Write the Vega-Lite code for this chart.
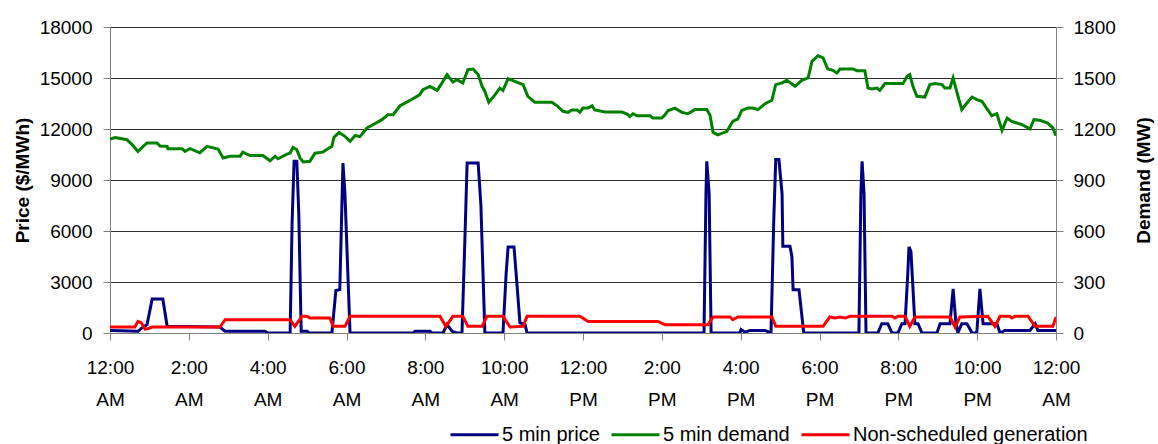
{
  "$schema": "https://vega.github.io/schema/vega-lite/v6.json",
  "width": 946,
  "height": 306,
  "autosize": {"type": "none"},
  "padding": {"left": 110, "top": 27, "right": 102, "bottom": 111},
  "background": "white",
  "config": {
    "view": {"stroke": null},
    "font": "Liberation Sans",
    "axis": {
      "labelFont": "Liberation Sans",
      "labelFontSize": 19,
      "labelColor": "#000000",
      "titleFont": "Liberation Sans",
      "titleFontSize": 19,
      "titleFontWeight": "bold",
      "titleColor": "#000000",
      "domainColor": "#808080",
      "tickColor": "#808080",
      "tickSize": 7,
      "gridColor": "#303030",
      "gridWidth": 1,
      "gridOpacity": 1
    },
    "legend": {
      "labelFont": "Liberation Sans",
      "labelFontSize": 20,
      "labelColor": "#000000",
      "labelLimit": 400
    }
  },
  "datasets": {
    "price": [
      {"h": 0.00, "price": 150}, {"h": 0.71, "price": 100}, {"h": 0.81, "price": 300}, {"h": 0.94, "price": 500},
      {"h": 1.07, "price": 2000}, {"h": 1.34, "price": 2000}, {"h": 1.45, "price": 400}, {"h": 2.79, "price": 350},
      {"h": 2.92, "price": 100}, {"h": 3.93, "price": 100}, {"h": 4.01, "price": 0}, {"h": 4.57, "price": 0},
      {"h": 4.62, "price": 6500}, {"h": 4.67, "price": 10100}, {"h": 4.74, "price": 10100}, {"h": 4.79, "price": 7000},
      {"h": 4.85, "price": 100}, {"h": 5.00, "price": 100}, {"h": 5.05, "price": 0}, {"h": 5.63, "price": 0},
      {"h": 5.73, "price": 2500}, {"h": 5.83, "price": 2550}, {"h": 5.91, "price": 10000}, {"h": 5.96, "price": 8200},
      {"h": 6.09, "price": 0}, {"h": 7.69, "price": 0}, {"h": 7.74, "price": 100}, {"h": 8.12, "price": 100},
      {"h": 8.17, "price": 0}, {"h": 8.45, "price": 0}, {"h": 8.55, "price": 500}, {"h": 8.68, "price": 100},
      {"h": 8.80, "price": 0}, {"h": 8.93, "price": 0}, {"h": 9.01, "price": 6000}, {"h": 9.06, "price": 10000},
      {"h": 9.34, "price": 10000}, {"h": 9.41, "price": 7500}, {"h": 9.51, "price": 0}, {"h": 9.97, "price": 0},
      {"h": 10.05, "price": 3500}, {"h": 10.10, "price": 5060}, {"h": 10.25, "price": 5060}, {"h": 10.32, "price": 3000},
      {"h": 10.40, "price": 600}, {"h": 10.53, "price": 500}, {"h": 10.58, "price": 0}, {"h": 15.07, "price": 0},
      {"h": 15.12, "price": 8200}, {"h": 15.14, "price": 10100}, {"h": 15.20, "price": 8200}, {"h": 15.25, "price": 0},
      {"h": 15.98, "price": 0}, {"h": 16.01, "price": 200}, {"h": 16.11, "price": 50}, {"h": 16.24, "price": 150},
      {"h": 16.62, "price": 150}, {"h": 16.72, "price": 50}, {"h": 16.77, "price": 0}, {"h": 16.84, "price": 6660},
      {"h": 16.89, "price": 10200}, {"h": 16.97, "price": 10200}, {"h": 17.05, "price": 8200}, {"h": 17.07, "price": 5100},
      {"h": 17.25, "price": 5100}, {"h": 17.30, "price": 4500}, {"h": 17.33, "price": 2550}, {"h": 17.48, "price": 2550},
      {"h": 17.60, "price": 0}, {"h": 19.00, "price": 0}, {"h": 19.05, "price": 8200}, {"h": 19.08, "price": 10100},
      {"h": 19.13, "price": 8200}, {"h": 19.18, "price": 0}, {"h": 19.48, "price": 0}, {"h": 19.58, "price": 550},
      {"h": 19.73, "price": 550}, {"h": 19.84, "price": 0}, {"h": 19.99, "price": 0}, {"h": 20.09, "price": 550},
      {"h": 20.17, "price": 550}, {"h": 20.24, "price": 3500}, {"h": 20.27, "price": 5060}, {"h": 20.32, "price": 4800},
      {"h": 20.42, "price": 550}, {"h": 20.50, "price": 550}, {"h": 20.60, "price": 0}, {"h": 20.98, "price": 0},
      {"h": 21.06, "price": 550}, {"h": 21.31, "price": 550}, {"h": 21.39, "price": 2590}, {"h": 21.46, "price": 600},
      {"h": 21.51, "price": 0}, {"h": 21.61, "price": 550}, {"h": 21.74, "price": 550}, {"h": 21.87, "price": 0},
      {"h": 21.99, "price": 0}, {"h": 22.07, "price": 2590}, {"h": 22.15, "price": 550}, {"h": 22.50, "price": 550},
      {"h": 22.58, "price": 0}, {"h": 22.70, "price": 150}, {"h": 23.08, "price": 150}, {"h": 23.34, "price": 150},
      {"h": 23.47, "price": 550}, {"h": 23.54, "price": 150}, {"h": 24.00, "price": 150}
    ],
    "demand": [
      {"h": 0.00, "mw": 1141}, {"h": 0.13, "mw": 1150}, {"h": 0.43, "mw": 1137}, {"h": 0.56, "mw": 1108},
      {"h": 0.71, "mw": 1068}, {"h": 0.84, "mw": 1098}, {"h": 0.94, "mw": 1118}, {"h": 1.19, "mw": 1118},
      {"h": 1.27, "mw": 1100}, {"h": 1.45, "mw": 1098}, {"h": 1.47, "mw": 1084}, {"h": 1.83, "mw": 1084},
      {"h": 1.90, "mw": 1068}, {"h": 2.03, "mw": 1084}, {"h": 2.28, "mw": 1060}, {"h": 2.46, "mw": 1098},
      {"h": 2.74, "mw": 1082}, {"h": 2.87, "mw": 1030}, {"h": 3.04, "mw": 1040}, {"h": 3.30, "mw": 1040},
      {"h": 3.37, "mw": 1064}, {"h": 3.55, "mw": 1044}, {"h": 3.88, "mw": 1044}, {"h": 4.06, "mw": 1013},
      {"h": 4.19, "mw": 1040}, {"h": 4.26, "mw": 1025}, {"h": 4.49, "mw": 1052}, {"h": 4.57, "mw": 1058},
      {"h": 4.64, "mw": 1092}, {"h": 4.74, "mw": 1078}, {"h": 4.82, "mw": 1030}, {"h": 4.90, "mw": 1006},
      {"h": 5.07, "mw": 1010}, {"h": 5.20, "mw": 1058}, {"h": 5.40, "mw": 1064}, {"h": 5.53, "mw": 1084},
      {"h": 5.63, "mw": 1098}, {"h": 5.68, "mw": 1150}, {"h": 5.81, "mw": 1180}, {"h": 5.96, "mw": 1157},
      {"h": 6.09, "mw": 1127}, {"h": 6.22, "mw": 1162}, {"h": 6.34, "mw": 1155}, {"h": 6.52, "mw": 1206},
      {"h": 6.67, "mw": 1225}, {"h": 6.90, "mw": 1255}, {"h": 7.05, "mw": 1284}, {"h": 7.18, "mw": 1284},
      {"h": 7.36, "mw": 1337}, {"h": 7.61, "mw": 1368}, {"h": 7.86, "mw": 1402}, {"h": 7.94, "mw": 1431},
      {"h": 8.12, "mw": 1451}, {"h": 8.30, "mw": 1427}, {"h": 8.42, "mw": 1471}, {"h": 8.55, "mw": 1520},
      {"h": 8.70, "mw": 1476}, {"h": 8.80, "mw": 1490}, {"h": 8.95, "mw": 1471}, {"h": 9.08, "mw": 1549},
      {"h": 9.21, "mw": 1553}, {"h": 9.34, "mw": 1520}, {"h": 9.44, "mw": 1451}, {"h": 9.51, "mw": 1421},
      {"h": 9.61, "mw": 1357}, {"h": 9.77, "mw": 1402}, {"h": 9.89, "mw": 1441}, {"h": 9.97, "mw": 1427},
      {"h": 10.10, "mw": 1496}, {"h": 10.27, "mw": 1480}, {"h": 10.48, "mw": 1461}, {"h": 10.60, "mw": 1392},
      {"h": 10.78, "mw": 1357}, {"h": 11.21, "mw": 1357}, {"h": 11.36, "mw": 1333}, {"h": 11.49, "mw": 1304},
      {"h": 11.62, "mw": 1298}, {"h": 11.72, "mw": 1312}, {"h": 11.85, "mw": 1312}, {"h": 11.92, "mw": 1298},
      {"h": 12.00, "mw": 1323}, {"h": 12.13, "mw": 1323}, {"h": 12.23, "mw": 1337}, {"h": 12.30, "mw": 1312},
      {"h": 12.56, "mw": 1300}, {"h": 12.99, "mw": 1300}, {"h": 13.12, "mw": 1288}, {"h": 13.19, "mw": 1274},
      {"h": 13.27, "mw": 1290}, {"h": 13.37, "mw": 1278}, {"h": 13.70, "mw": 1278}, {"h": 13.77, "mw": 1265},
      {"h": 14.00, "mw": 1265}, {"h": 14.08, "mw": 1284}, {"h": 14.16, "mw": 1309}, {"h": 14.33, "mw": 1323},
      {"h": 14.51, "mw": 1298}, {"h": 14.66, "mw": 1290}, {"h": 14.84, "mw": 1314}, {"h": 15.14, "mw": 1314},
      {"h": 15.22, "mw": 1284}, {"h": 15.30, "mw": 1180}, {"h": 15.42, "mw": 1166}, {"h": 15.65, "mw": 1186},
      {"h": 15.80, "mw": 1245}, {"h": 15.93, "mw": 1259}, {"h": 16.03, "mw": 1309}, {"h": 16.18, "mw": 1323},
      {"h": 16.31, "mw": 1323}, {"h": 16.44, "mw": 1314}, {"h": 16.62, "mw": 1349}, {"h": 16.79, "mw": 1369},
      {"h": 16.89, "mw": 1461}, {"h": 17.05, "mw": 1471}, {"h": 17.17, "mw": 1486}, {"h": 17.38, "mw": 1451},
      {"h": 17.55, "mw": 1486}, {"h": 17.71, "mw": 1500}, {"h": 17.81, "mw": 1598}, {"h": 17.96, "mw": 1631},
      {"h": 18.09, "mw": 1618}, {"h": 18.21, "mw": 1553}, {"h": 18.34, "mw": 1545}, {"h": 18.44, "mw": 1529},
      {"h": 18.52, "mw": 1553}, {"h": 18.85, "mw": 1553}, {"h": 18.95, "mw": 1543}, {"h": 19.15, "mw": 1543},
      {"h": 19.23, "mw": 1441}, {"h": 19.33, "mw": 1435}, {"h": 19.46, "mw": 1441}, {"h": 19.53, "mw": 1427},
      {"h": 19.66, "mw": 1467}, {"h": 20.12, "mw": 1467}, {"h": 20.22, "mw": 1510}, {"h": 20.29, "mw": 1520},
      {"h": 20.37, "mw": 1451}, {"h": 20.47, "mw": 1392}, {"h": 20.67, "mw": 1388}, {"h": 20.80, "mw": 1461},
      {"h": 20.93, "mw": 1467}, {"h": 21.11, "mw": 1461}, {"h": 21.18, "mw": 1441}, {"h": 21.31, "mw": 1441},
      {"h": 21.39, "mw": 1500}, {"h": 21.49, "mw": 1412}, {"h": 21.61, "mw": 1314}, {"h": 21.74, "mw": 1353},
      {"h": 21.87, "mw": 1388}, {"h": 21.99, "mw": 1373}, {"h": 22.12, "mw": 1363}, {"h": 22.25, "mw": 1318},
      {"h": 22.37, "mw": 1278}, {"h": 22.50, "mw": 1290}, {"h": 22.63, "mw": 1192}, {"h": 22.76, "mw": 1265},
      {"h": 22.88, "mw": 1245}, {"h": 23.14, "mw": 1225}, {"h": 23.34, "mw": 1200}, {"h": 23.44, "mw": 1255},
      {"h": 23.59, "mw": 1251}, {"h": 23.79, "mw": 1235}, {"h": 23.92, "mw": 1206}, {"h": 24.00, "mw": 1160}
    ],
    "nonsched": [
      {"h": 0.00, "mw": 35}, {"h": 0.63, "mw": 35}, {"h": 0.71, "mw": 68}, {"h": 0.79, "mw": 60},
      {"h": 0.89, "mw": 23}, {"h": 0.96, "mw": 25}, {"h": 1.07, "mw": 35}, {"h": 2.79, "mw": 35},
      {"h": 2.92, "mw": 78}, {"h": 4.57, "mw": 78}, {"h": 4.69, "mw": 39}, {"h": 4.87, "mw": 98},
      {"h": 5.00, "mw": 98}, {"h": 5.07, "mw": 88}, {"h": 5.58, "mw": 88}, {"h": 5.66, "mw": 39},
      {"h": 5.96, "mw": 39}, {"h": 6.09, "mw": 98}, {"h": 8.37, "mw": 98}, {"h": 8.52, "mw": 39},
      {"h": 8.70, "mw": 98}, {"h": 8.95, "mw": 98}, {"h": 9.08, "mw": 39}, {"h": 9.44, "mw": 39},
      {"h": 9.56, "mw": 98}, {"h": 9.97, "mw": 98}, {"h": 10.15, "mw": 35}, {"h": 10.48, "mw": 39},
      {"h": 10.58, "mw": 98}, {"h": 11.92, "mw": 98}, {"h": 12.13, "mw": 68}, {"h": 13.90, "mw": 68},
      {"h": 14.08, "mw": 49}, {"h": 15.17, "mw": 49}, {"h": 15.30, "mw": 94}, {"h": 15.73, "mw": 94},
      {"h": 15.80, "mw": 78}, {"h": 15.93, "mw": 94}, {"h": 16.79, "mw": 94}, {"h": 16.89, "mw": 39},
      {"h": 18.09, "mw": 39}, {"h": 18.26, "mw": 94}, {"h": 18.39, "mw": 88}, {"h": 18.52, "mw": 94},
      {"h": 18.65, "mw": 88}, {"h": 18.77, "mw": 98}, {"h": 19.84, "mw": 98}, {"h": 19.91, "mw": 88},
      {"h": 19.99, "mw": 98}, {"h": 20.17, "mw": 98}, {"h": 20.29, "mw": 39}, {"h": 20.42, "mw": 94},
      {"h": 21.31, "mw": 94}, {"h": 21.44, "mw": 35}, {"h": 21.56, "mw": 94}, {"h": 22.27, "mw": 98},
      {"h": 22.45, "mw": 39}, {"h": 22.58, "mw": 98}, {"h": 22.83, "mw": 98}, {"h": 22.88, "mw": 88},
      {"h": 22.96, "mw": 98}, {"h": 23.29, "mw": 98}, {"h": 23.47, "mw": 39}, {"h": 23.92, "mw": 39},
      {"h": 24.00, "mw": 94}
    ]
  },
  "encoding": {
    "x": {
      "field": "h",
      "type": "quantitative",
      "scale": {"domain": [0, 24], "nice": false, "zero": false},
      "axis": {
        "title": null,
        "grid": false,
        "values": [0, 2, 4, 6, 8, 10, 12, 14, 16, 18, 20, 22, 24],
        "labelExpr": "[(datum.value % 12 == 0 ? '12' : '' + (datum.value % 12)) + ':00', (datum.value % 24 < 12 ? 'AM' : 'PM')]",
        "labelLineHeight": 32,
        "labelPadding": 18,
        "labelFlush": false,
        "labelOverlap": false
      }
    }
  },
  "layer": [
    {
      "data": {"name": "price"},
      "mark": {"type": "line", "strokeWidth": 3, "clip": true},
      "encoding": {
        "y": {
          "field": "price",
          "type": "quantitative",
          "scale": {"domain": [0, 18000], "nice": false},
          "axis": {
            "orient": "left",
            "title": "Price ($/MWh)",
            "values": [0, 3000, 6000, 9000, 12000, 15000, 18000],
            "format": "d",
            "grid": true,
            "labelPadding": 11,
            "titleX": -88,
            "titleY": 153,
            "titleAngle": -90,
            "titleAlign": "center",
            "titleBaseline": "middle"
          }
        },
        "color": {
          "datum": "5 min price",
          "type": "nominal",
          "scale": {
            "domain": ["5 min price", "5 min demand", "Non-scheduled generation"],
            "range": ["#000080", "#008000", "#FF0000"]
          },
          "legend": {
            "title": null,
            "orient": "none",
            "direction": "horizontal",
            "legendX": 339,
            "legendY": 382,
            "symbolType": "stroke",
            "symbolSize": 2304,
            "symbolStrokeWidth": 3,
            "labelOffset": 2,
            "columnPadding": 5
          }
        }
      }
    },
    {
      "layer": [
        {
          "data": {"name": "demand"},
          "mark": {"type": "line", "strokeWidth": 3, "clip": true},
          "encoding": {
            "y": {
              "field": "mw",
              "type": "quantitative",
              "scale": {"domain": [0, 1800], "nice": false},
              "axis": {
                "orient": "right",
                "title": "Demand (MW)",
                "values": [0, 300, 600, 900, 1200, 1500, 1800],
                "format": "d",
                "grid": false,
                "labelPadding": 10,
                "titleX": 87,
                "titleY": 153,
                "titleAngle": -90,
                "titleAlign": "center",
                "titleBaseline": "middle"
              }
            },
            "color": {"datum": "5 min demand", "type": "nominal"}
          }
        },
        {
          "data": {"name": "nonsched"},
          "mark": {"type": "line", "strokeWidth": 3, "clip": true},
          "encoding": {
            "y": {"field": "mw", "type": "quantitative"},
            "color": {"datum": "Non-scheduled generation", "type": "nominal"}
          }
        }
      ]
    }
  ],
  "resolve": {"scale": {"y": "independent"}}
}
